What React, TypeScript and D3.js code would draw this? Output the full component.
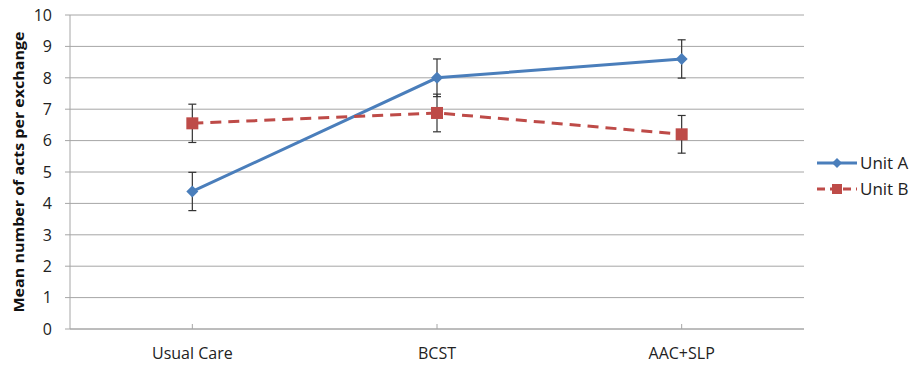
import * as d3 from 'd3';

const categories = ['Usual Care', 'BCST', 'AAC+SLP'];
const unitA = [4.38, 8.0, 8.6];
const unitAErr = [0.61, 0.6, 0.61];
const unitB = [6.55, 6.88, 6.2];
const unitBErr = [0.61, 0.6, 0.6];
const yTicks = [0, 1, 2, 3, 4, 5, 6, 7, 8, 9, 10];

const W = 916;
const H = 371;
const margin = { left: 70, right: 112, top: 15, bottom: 42 };

const BLUE = '#4A7EBB';
const RED = '#BE4B48';
const GRID = '#A6A6A6';
const FONT = "'Open Sans', 'Liberation Sans', sans-serif";

const App = () => {
  const x = d3
    .scaleBand<string>()
    .domain(categories)
    .range([margin.left, W - margin.right]);
  const y = d3
    .scaleLinear()
    .domain([0, 10])
    .range([H - margin.bottom, margin.top]);
  const cx = (c: string) => (x(c) as number) + x.bandwidth() / 2;

  const line = d3
    .line<number>()
    .x((_, i) => cx(categories[i]))
    .y((d) => y(d));

  const series = [
    { name: 'Unit A', values: unitA, err: unitAErr, color: BLUE, dash: null, marker: 'diamond' },
    { name: 'Unit B', values: unitB, err: unitBErr, color: RED, dash: '11,7', marker: 'square' },
  ];

  const marker = (kind: string, px: number, py: number, color: string, s = 6) =>
    kind === 'diamond' ? (
      <path
        d={`M${px},${py - s}L${px + s},${py}L${px},${py + s}L${px - s},${py}Z`}
        fill={color}
      />
    ) : (
      <rect x={px - s} y={py - s} width={2 * s} height={2 * s} fill={color} />
    );

  return (
    <svg
      width={W}
      height={H}
      style={{ position: 'absolute', left: 0, top: 0, background: 'white' }}
      fontFamily={FONT}
    >
      {/* gridlines */}
      {yTicks.map((t) => (
        <line
          key={t}
          x1={margin.left}
          x2={W - margin.right}
          y1={y(t)}
          y2={y(t)}
          stroke={GRID}
          strokeWidth={1}
        />
      ))}
      {/* y axis */}
      <line x1={margin.left} x2={margin.left} y1={y(10)} y2={y(0)} stroke={GRID} />
      {yTicks.map((t) => (
        <g key={'yt' + t}>
          <line x1={margin.left - 5} x2={margin.left} y1={y(t)} y2={y(t)} stroke={GRID} />
          <text
            x={margin.left - 18}
            y={y(t)}
            dy="0.36em"
            textAnchor="end"
            fontSize={16}
            fill="#222"
          >
            {t}
          </text>
        </g>
      ))}
      {/* x axis */}
      <line x1={margin.left} x2={W - margin.right} y1={y(0)} y2={y(0)} stroke={GRID} />
      {categories.map((c) => (
        <g key={c}>
          <line x1={cx(c)} x2={cx(c)} y1={y(0) - 5} y2={y(0)} stroke={GRID} />
          <text x={cx(c)} y={y(0) + 30} textAnchor="middle" fontSize={16} fill="#222">
            {c}
          </text>
        </g>
      ))}
      {/* y title */}
      <text
        transform={`translate(24,${(y(0) + y(10)) / 2}) rotate(-90)`}
        textAnchor="middle"
        fontSize={15}
        fontWeight="bold"
        fill="#111"
        textLength={281}
        lengthAdjust="spacingAndGlyphs"
      >
        Mean number of acts per exchange
      </text>
      {/* series */}
      {series.map((s) => (
        <g key={s.name}>
          <path
            d={line(s.values) as string}
            fill="none"
            stroke={s.color}
            strokeWidth={3}
            strokeDasharray={s.dash ?? undefined}
          />
          {s.values.map((v, i) => {
            const px = cx(categories[i]);
            return (
              <g key={i}>
                <line x1={px} x2={px} y1={y(v + s.err[i])} y2={y(v - s.err[i])} stroke="#333" strokeWidth={1.2} />
                <line x1={px - 4} x2={px + 4} y1={y(v + s.err[i])} y2={y(v + s.err[i])} stroke="#333" strokeWidth={1.2} />
                <line x1={px - 4} x2={px + 4} y1={y(v - s.err[i])} y2={y(v - s.err[i])} stroke="#333" strokeWidth={1.2} />
                {marker(s.marker, px, y(v), s.color)}
              </g>
            );
          })}
        </g>
      ))}
      {/* legend */}
      {series.map((s, i) => {
        const ly = 163 + i * 26;
        return (
          <g key={'lg' + s.name}>
            <line
              x1={817}
              x2={857}
              y1={ly}
              y2={ly}
              stroke={s.color}
              strokeWidth={3}
              strokeDasharray={s.dash ? '8,5' : undefined}
            />
            {marker(s.marker, 837, ly, s.color, 5)}
            <text x={860} y={ly} dy="0.36em" fontSize={17} fill="#222">
              {s.name}
            </text>
          </g>
        );
      })}
    </svg>
  );
};

export default App;
